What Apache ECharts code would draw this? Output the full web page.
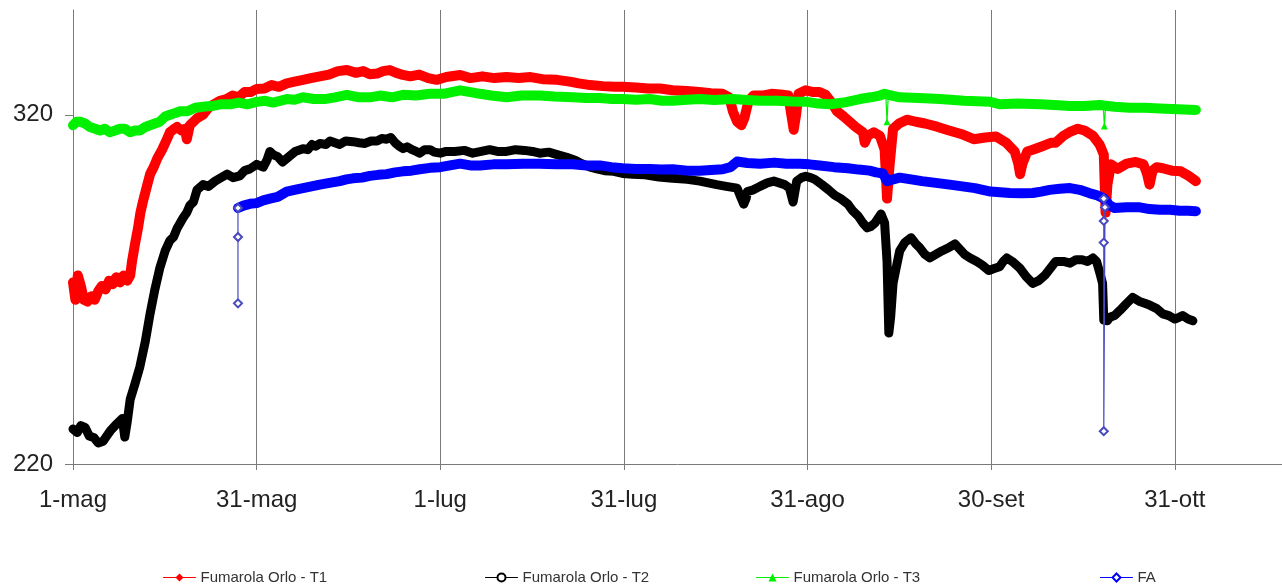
<!DOCTYPE html>
<html>
<head>
<meta charset="utf-8">
<script src="https://cdn.jsdelivr.net/npm/echarts@6/dist/echarts.min.js"></script>
<style>
html,body{margin:0;padding:0;background:#fff;}
#chart{width:1282px;height:587px;}
</style>
</head>
<body>
<div id="chart"></div>
<script>
// x = days since 1 May, y = temperature
const tickLabels = ['1-mag','31-mag','1-lug','31-lug','31-ago','30-set','31-ott','30-nov'];
const seriesNames = ['Fumarola Orlo - T1','Fumarola Orlo - T2','Fumarola Orlo - T3','FA'];

const t1 = [[0,272],[0.4,267],[0.8,274],[1.3,271],[1.8,267],[2.4,266.5],[3,268],[3.6,267],[4.2,269.5],[4.8,271],[5.4,270],[6,272.5],[6.6,271.5],[7.2,273.5],[7.8,272],[8.4,274],[9,272.5],[9.5,274],
[9.8,278],[10.3,283],[10.8,287.6],[11.2,292],[11.6,295],[12.2,299],[12.8,303],[13.4,305],[14,307.5],[14.8,310],[15.6,313],[16.1,315],[16.6,315.7],[17.3,316.5],[18,315.5],[18.6,316],[18.9,313],[19.4,317],[20,318],[20.6,319],[21.6,320],[22.5,322],[23.4,323],[24.4,324],[25.5,324.5],[26.5,325.5],[27.5,325],[28.5,326.5],[29.5,326.5],[30.5,327.4],[31.8,327.5],[33,328.5],[34.2,328],[35.5,329],[36.8,329.5],[38.2,330],[39.5,330.5],[41,331],[42.5,331.5],[44,332.5],[45.5,332.8],[47,332],[48.2,332.5],[49.3,331.6],[50.5,331.8],[51.5,332.5],[52.6,332.8],[53.7,332],[54.8,331.4],[56,331],[57.5,331.5],[59,330.5],[60.4,330],[62,330.8],[64.3,331.4],[66,330.5],[68,331],[70,330.5],[72,330.8],[74,330.5],[76,330.8],[78,330.2],[80.4,330],[82.5,329.5],[84,329],[85.9,328.5],[88,328.2],[90,328],[91.3,328],[93.5,327.8],[95.5,327.5],[97.5,327.5],[99.6,327],[102,326.8],[104,326.5],[106,326.2],[107.9,326],[109,325],[109.6,321],[110.3,318],[111,317],[111.5,319],[112.2,324],[113,325.5],[114.5,325.5],[116,326],[117.5,325.8],[118.8,325.5],[119.3,320],[119.7,315.7],[120.1,320],[120.5,326],[121.7,327],[123,326.5],[124,326.5],[125,325.7],[126,323.5],[126.9,321],[128,319.5],[129,318],[130,316.5],[131.2,315],[131.5,312],[132,314],[133,315],[134,314],[134.8,310],[135.2,296],[135.6,305],[136.2,316],[137.2,317.5],[138.5,318.6],[140,318],[141.5,317.5],[143.5,316.6],[145.5,315.5],[147.5,314.5],[149.6,313],[151.5,313.5],[153.3,313.8],[155,312],[156.4,309.5],[157,306],[157.3,303],[157.7,306],[158.5,309.5],[159.4,310],[161,311],[162.5,312],[163.2,312],[164.5,314],[165.5,315],[166.9,316],[168,315.5],[169.4,314],[170.5,311.5],[171.2,308.6],[171.5,292],[171.8,300],[172.4,305.8],[173.5,304.5],[175,306],[176.5,306.5],[177.8,305.8],[178.4,303],[178.8,300],[179.3,304],[180,305],[181,304.7],[182.5,304],[184,303.8],[185.3,302.5],[186.5,301]];

const t2 = [[0,230],[0.7,229],[1.3,231],[2,230.5],[2.7,228],[3.5,227.5],[4.2,226],[5,226.5],[5.6,228],[6.2,229.5],[7,231],[7.6,232],[8.2,233],[8.6,227.7],[9,232],[9.5,238.5],[10.3,243],[11.1,247.8],[12,255],[12.8,263],[13.6,270],[14.4,276],[15.3,281],[16.1,284],[16.7,285],[17.3,287.5],[18.3,290.5],[18.9,292],[19.4,294],[20,295],[20.6,298.5],[21.6,300],[22.5,299.5],[23.6,301],[24.6,302],[25.6,303],[26.6,302],[27.7,302.5],[28.5,304],[29.4,304.5],[30.5,305.8],[31.6,305],[32.2,307],[32.7,309.5],[33.3,308.5],[34,308],[34.8,306.5],[35.5,307.5],[36.2,308.5],[36.9,309.5],[38.2,310.3],[39,310],[39.7,311.5],[40.3,311],[41,311.8],[42,311.5],[42.7,312.5],[43.5,312],[44.3,311.5],[45.3,312.5],[46.5,312.3],[47.5,312],[48.5,311.8],[49.5,312.5],[50.5,312.5],[51.3,313.2],[52.1,313],[52.8,313.5],[53.5,312],[54.2,311],[54.8,310.3],[55.5,310.8],[56.3,310],[57,309.5],[57.6,309],[58.4,310],[59.3,310],[60,309.3],[61,309],[62,309.5],[63.4,309.5],[65,309.8],[66.4,309],[67.8,309.5],[69.2,310],[70.5,309.5],[72,309.5],[73.5,310],[75,309.8],[76.3,309.5],[77.5,309],[79,309.3],[80.4,308.6],[82,307.8],[83.4,307],[84.5,306],[85.9,305],[87,304.5],[88.3,304],[89.8,303.8],[91.3,303.2],[93,303],[95,302.8],[97.3,302.2],[99.6,301.8],[102,301.5],[104.1,301],[105.5,300.5],[106.9,300],[108.5,299.5],[110.3,299],[111,296],[111.4,294.4],[111.8,296],[112,298],[113,298.5],[114.1,299.5],[115.3,300.5],[116.4,301],[117.3,300.5],[118.2,300],[119,299],[119.6,295],[120.2,301],[121,302],[121.7,302.4],[122.5,302],[123.2,301.5],[124.4,300],[125.5,298.5],[126.5,297],[127.5,296],[128.7,294.4],[129.5,292.5],[130.4,291],[131.2,289],[131.9,287.6],[132.5,288],[133.2,289],[134.2,291.6],[134.8,289],[135.2,278],[135.5,257.5],[135.8,262],[136.2,271.7],[136.7,276],[137.3,281],[138.2,283.5],[139.2,284.8],[140,283],[140.6,282],[141.5,280],[142.3,279],[143.3,280],[144.3,281],[145.5,282],[146.5,283],[147.3,281.5],[148.1,280],[149,279],[150.1,278],[151,277],[152.1,275.4],[153,276],[153.9,276.5],[154.5,278],[155.1,279],[156,278],[157.3,276],[158.4,273.5],[159.4,271.7],[160.4,272.5],[161.4,274],[162.3,276],[163.2,278],[164.5,278],[165.6,277.5],[166.6,278.5],[167.6,278.5],[168.5,278],[169.4,279],[170,278],[170.5,275],[171,271.7],[171.2,261.2],[171.8,261],[172.2,262],[173,262.5],[173.9,264],[175,266],[176,267.7],[176.7,267],[177.2,266.5],[178,266],[178.8,265.5],[180,264.5],[181,263],[182,262.5],[183,261.5],[183.7,262],[184.3,262.5],[185.2,261.5],[186,261]];

const t3 = [[0,317],[0.6,318],[1.2,318],[2,317.5],[2.8,316.5],[3.7,316],[4.5,315.5],[5.3,316],[6.1,315],[7,315.5],[7.8,316],[8.6,316],[9.5,315],[10.3,315.5],[11.1,315.5],[12,316.5],[12.8,317],[13.6,317.5],[14.4,318],[15.3,319.5],[16.1,320],[17,320.5],[17.8,321],[19,321],[20.3,322],[21.6,322.3],[23,322.5],[24.5,323],[26.1,323],[27.5,323.5],[29,323],[30.5,323.7],[32,324],[33.2,323.5],[34.4,324],[35.5,324.5],[36.8,324.3],[38.2,325],[40,324.5],[41.8,324.5],[43.5,325],[45.5,325.7],[47.5,325],[49.3,325],[51,325.5],[53,325],[54.8,325.7],[57,325.5],[59.3,326],[61.5,326],[64.3,327],[66,326.5],[67.6,326],[69.5,325.5],[72,325],[74.5,325.5],[77.5,325.5],[80,325.2],[83,325],[85.3,324.8],[87.5,324.8],[89.5,324.5],[91.3,324.5],[93.5,324.3],[95.8,324.5],[97.8,324],[99.6,324],[102,324.3],[104.1,324.5],[106.5,324.2],[109.6,324.5],[112,324.2],[114.1,324],[117,324],[119.5,323.8],[121.9,323.7],[123.8,323.2],[125.7,323],[128,323.5],[130.7,324.5],[132.5,325],[134,325.5],[134.8,326],[136,325.5],[137.3,325],[140.5,324.8],[144,324.5],[148,324],[152.4,323.7],[153.9,323],[157,323.2],[160.6,323],[163,322.8],[165.6,322.5],[168,322.5],[170.5,322.8],[173,322.3],[175.5,322],[178,322],[180.5,321.8],[183.5,321.6],[186.5,321.4]];
const t3Spikes = [[135,325.5],[135.2,318],[135.4,325.5],[135.5,'-'],[171.1,322.8],[171.3,316.8],[171.5,322.5]];

const fa = [[27.4,293.3],[28.3,294],[29.4,294.5],[30.5,294.7],[31.6,295.5],[32.7,296],[34,296.5],[35.5,298],[36.8,298.5],[38.2,299],[39.6,299.5],[41,300],[42.6,300.5],[44.3,301],[45.4,301.5],[46.5,301.8],[48,302],[49.3,302.5],[50.7,302.8],[52.1,303],[53.5,303.5],[54.8,303.8],[56.2,304],[57.6,304.4],[59.3,304.8],[61,305],[62.6,305.5],[64.3,306],[66,305.5],[67.6,305.5],[69.8,305.8],[72,305.8],[74.8,306],[77.5,306],[80.2,305.8],[83,305.8],[85.3,305.5],[87.5,305.5],[89.4,305],[91.3,304.7],[93.5,304.5],[95.8,304.5],[97.7,304.3],[99.6,304.4],[102,304],[104.1,304],[106,304.2],[107.9,304.4],[109.2,305],[110.3,306.6],[112,306.2],[114.1,306],[116.5,306.3],[118.5,306],[120.7,306],[122.3,305.8],[124,305.5],[126.4,305],[128.7,304.7],[130.5,304.3],[132.3,304],[133.4,303.5],[134.5,303.2],[135.2,301],[136.2,301.5],[137.3,302],[139.2,301.5],[141,301],[143.3,300.5],[145.6,300],[147.7,299.5],[149.8,299],[151.1,298.5],[152.4,298],[154,297.8],[155.6,297.6],[157.5,297.5],[159.4,297.6],[160.8,298],[162.2,298.5],[163.9,298.8],[165.6,299],[167.2,298.5],[168.9,297.5],[170,297],[171.2,296],[172.2,294],[173,293.3],[175,293.5],[177.2,293.5],[178.8,293],[180.5,292.8],[182.2,292.8],[183.8,292.5],[185.2,292.5],[186.5,292.4]];
const faSpikes = [[27.4,293.3],[27.4,285],[27.4,266],[27.5,'-'],[171.2,296],[171.2,289.6],[171.2,283.4],[171.2,229.4],[171.4,293.5]];

const FONT = 'Liberation Sans, Arial, sans-serif';
const GRID_COLOR = '#7a7a7a';

const chart = echarts.init(document.getElementById('chart'), null, {renderer: 'canvas'});

function legendAt(name, left) {
  return {
    data: [name], left: left, top: 565, orient: 'horizontal',
    itemWidth: 32, itemHeight: 10, itemGap: 0,
    textStyle: {fontFamily: FONT, fontSize: 15, color: '#333'},
    lineStyle: {width: 1}
  };
}

chart.setOption({
  animation: false,
  backgroundColor: '#fff',
  textStyle: {fontFamily: FONT},
  grid: {left: 73, right: 0, top: 10, bottom: 123, containLabel: false},
  legend: [
    legendAt(seriesNames[0], 158),
    legendAt(seriesNames[1], 480),
    legendAt(seriesNames[2], 751),
    legendAt(seriesNames[3], 1095)
  ],
  xAxis: {
    type: 'value', min: 0, max: 200.8, interval: 30.5,
    axisLine: {show: true, lineStyle: {color: GRID_COLOR, width: 1}},
    axisTick: {show: true, length: 6, lineStyle: {color: GRID_COLOR}},
    splitLine: {show: true, showMaxLine: false, lineStyle: {color: GRID_COLOR, width: 1}},
    axisLabel: {
      fontFamily: FONT, fontSize: 24, color: '#222', margin: 24,
      showMaxLabel: false,
      formatter: function (v) {
        const i = Math.round(v / 30.5);
        return Math.abs(v - i * 30.5) < 1e-6 ? (tickLabels[i] || '') : '';
      }
    }
  },
  yAxis: {
    type: 'value', min: 220, max: 350, interval: 100,
    axisLine: {show: true, lineStyle: {color: GRID_COLOR, width: 1}},
    axisTick: {show: true, length: 8, lineStyle: {color: GRID_COLOR}, customValues: [220, 320]},
    splitLine: {show: true, showMinLine: false, showMaxLine: false, lineStyle: {color: GRID_COLOR, width: 1}},
    axisLabel: {fontFamily: FONT, fontSize: 24, color: '#222', margin: 20, showMaxLabel: false}
  },
  series: [
    {name: seriesNames[0], type: 'line', data: t1, symbol: 'diamond', showSymbol: false,
     color: '#ff0000', lineStyle: {width: 10, color: '#ff0000', join: 'round', cap: 'round'}},
    {name: seriesNames[1], type: 'line', data: t2, symbol: 'emptyCircle', showSymbol: false,
     color: '#000000', lineStyle: {width: 9, color: '#000000', join: 'round', cap: 'round'}},
    {name: seriesNames[2], type: 'line', data: t3, symbol: 'triangle', showSymbol: false,
     color: '#00f000', lineStyle: {width: 10, color: '#00f000', join: 'round', cap: 'round'}},
    {name: seriesNames[2], type: 'line', data: t3Spikes, symbol: 'triangle', symbolSize: 7, showSymbol: true,
     color: '#00f000', lineStyle: {width: 1.2, color: '#00f000'}},
    {name: seriesNames[3], type: 'line', data: fa, symbol: 'emptyDiamond', showSymbol: false,
     color: '#0000ff', lineStyle: {width: 10, color: '#0000ff', join: 'round', cap: 'round'}},
    {name: seriesNames[3], type: 'line', data: faSpikes, symbol: 'emptyDiamond', symbolSize: 8, showSymbol: true,
     color: '#4848c0', itemStyle: {borderColor: '#4848c0', borderWidth: 1}, lineStyle: {width: 1.2, color: '#4848c0'}}
  ]
});
</script>
</body>
</html>
